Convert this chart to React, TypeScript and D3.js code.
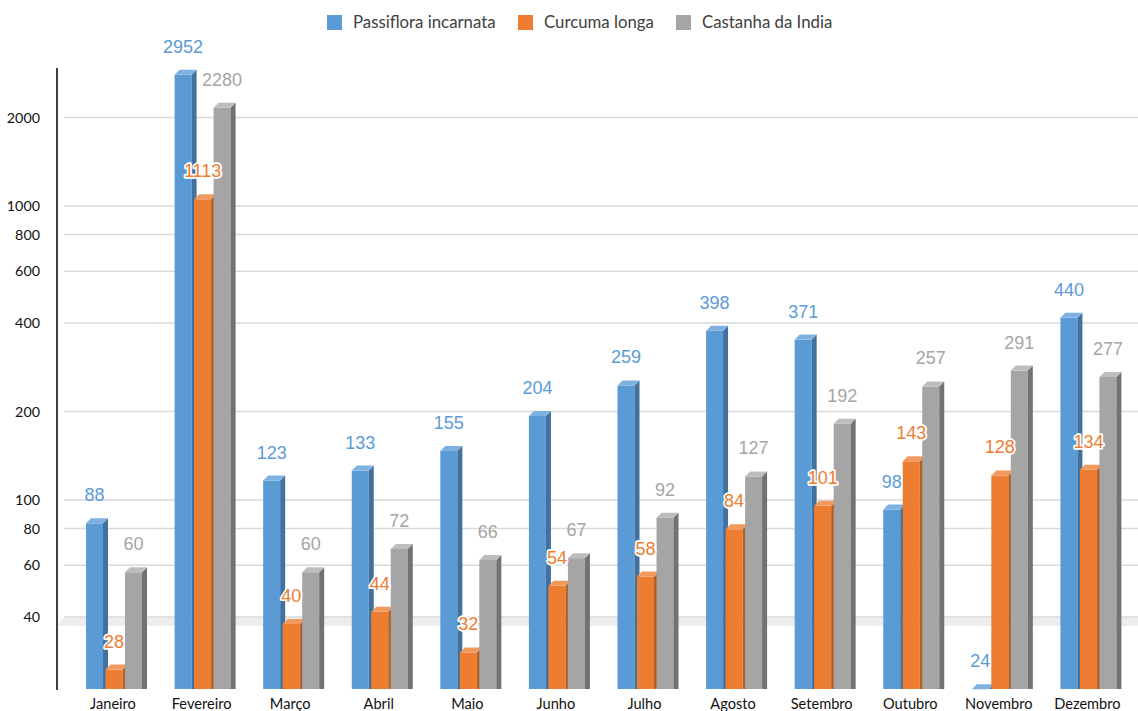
import React from "react";
import * as d3 from "d3";

const months = ["Janeiro", "Fevereiro", "Março", "Abril", "Maio", "Junho", "Julho", "Agosto", "Setembro", "Outubro", "Novembro", "Dezembro"];
const passiflora = [88, 2952, 123, 133, 155, 204, 259, 398, 371, 98, 24, 440];
const curcuma = [28, 1113, 40, 44, 32, 54, 58, 84, 101, 143, 128, 134];
const castanha = [60, 2280, 60, 72, 66, 67, 92, 127, 192, 257, 291, 277];
const seriesNames = ["Passiflora incarnata", "Curcuma longa", "Castanha da India"];
const yTicks = [40, 60, 80, 100, 200, 400, 600, 800, 1000, 2000];

const palette = [
  { front: "#5b9bd5", side: "#41719c", top: "#7eb1e1", label: "#5b9bd5" },
  { front: "#ed7d31", side: "#b45f23", top: "#f29a5e", label: "#ed7d31" },
  { front: "#a5a5a5", side: "#727272", top: "#bdbdbd", label: "#a5a5a5" },
];

const W = 1138;
const H = 711;
const baseY = 689;
const barW = 17;
const pitch = 19.5;
const depth = 5;

export default function App() {
  const series = [passiflora, curcuma, castanha];
  const y = d3.scaleLog().domain([10, 10000]).range([794, -88]);
  const x = d3.scaleBand<string>().domain(months).range([64, 1127]).padding(0);

  const legendPos = [327, 518, 676];

  return (
    <svg width={W} height={H} style={{ position: "absolute", left: 0, top: 0, background: "#fff" }}>
      {/* floor band */}
      <polygon points={`57,626 64,617 ${W},617 ${W},626`} fill="#ededed" />
      {/* gridlines */}
      {yTicks.map((t) => (
        <line key={t} x1={64} x2={W} y1={y(t)} y2={y(t)} stroke="#d9d9d9" strokeWidth={1.5} />
      ))}
      {/* axis */}
      <line x1={57} x2={57} y1={68} y2={690} stroke="#000" strokeWidth={1.5} />
      {yTicks.map((t) => (
        <text key={"t" + t} x={40} y={y(t)} dy="0.36em" textAnchor="end" fontFamily="Lato" fontSize={14.3} fill="#111">
          {t}
        </text>
      ))}
      {/* bars */}
      {months.map((m, i) => (
        <g key={m}>
          {series.map((vals, s) => {
            const v = vals[i];
            const x0 = (x(m) as number) + 22 + s * pitch;
            const yb = y(v) + 2;
            const yf = yb + depth;
            const c = palette[s];
            return (
              <g key={s}>
                <rect x={x0} y={yf} width={barW} height={baseY - yf} fill={c.front} />
                <polygon
                  points={`${x0 + barW},${yf} ${x0 + barW + depth},${yb} ${x0 + barW + depth},${baseY} ${x0 + barW},${baseY}`}
                  fill={c.side}
                />
                <polygon
                  points={`${x0},${yf} ${x0 + depth},${yb} ${x0 + barW + depth},${yb} ${x0 + barW},${yf}`}
                  fill={c.top}
                />
              </g>
            );
          })}
        </g>
      ))}
      {/* data labels */}
      {months.map((m, i) => (
        <g key={"l" + m}>
          {series.map((vals, s) => {
            const v = vals[i];
            const x0 = (x(m) as number) + 22 + s * pitch;
            const yb = y(v) + 2;
            return (
              <text
                key={s}
                x={x0 + barW / 2}
                y={yb - 17}
                textAnchor="middle"
                fontFamily="Liberation Sans, Arial, sans-serif"
                fontSize={18}
                fill={palette[s].label}
                stroke={s === 1 ? "#fff" : "none"}
                strokeWidth={s === 1 ? 3.5 : 0}
                strokeLinejoin="round"
                style={{ paintOrder: "stroke" }}
              >
                {v}
              </text>
            );
          })}
        </g>
      ))}
      {/* month labels */}
      {months.map((m) => (
        <text key={"m" + m} x={(x(m) as number) + 49} y={709} textAnchor="middle" fontFamily="Lato" fontSize={14.6} fill="#111">
          {m}
        </text>
      ))}
      {/* legend */}
      {seriesNames.map((n, s) => (
        <g key={n}>
          <rect x={legendPos[s]} y={15} width={15} height={15} fill={palette[s].front} />
          <text x={legendPos[s] + 26} y={28} fontFamily="Lato" fontSize={16.8} fill="#404040">
            {n}
          </text>
        </g>
      ))}
    </svg>
  );
}
